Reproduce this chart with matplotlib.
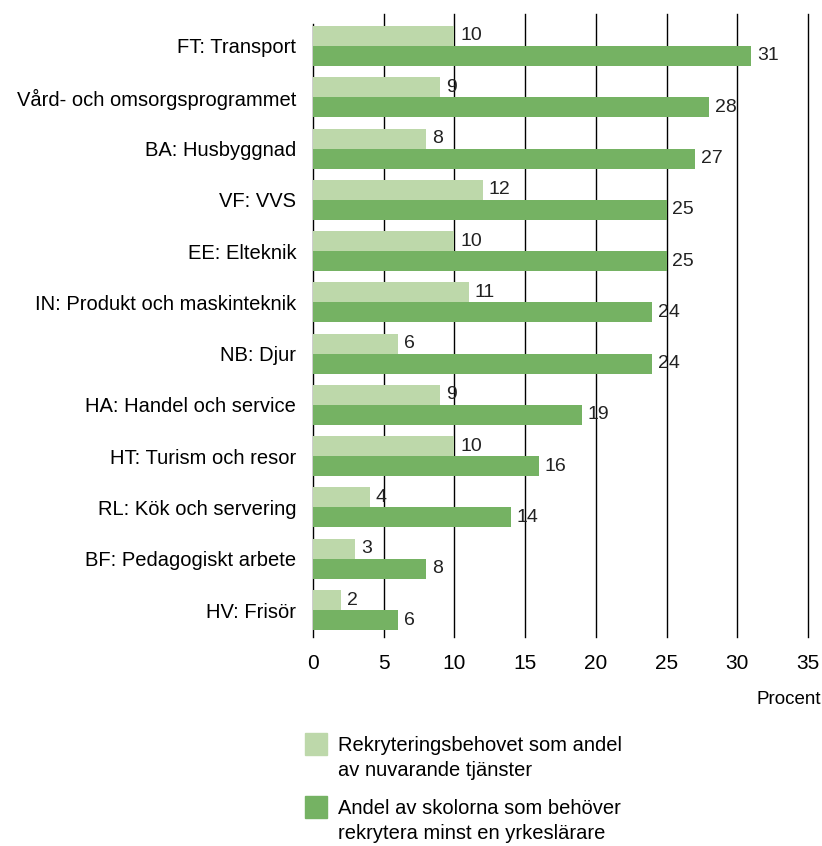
import matplotlib.pyplot as plt
import matplotlib.patches as mpatches
import numpy as np

plt.rcParams['font.family'] = ['Liberation Sans', 'DejaVu Sans']

# data
categories = ['FT: Transport', 'Vård- och omsorgsprogrammet', 'BA: Husbyggnad', 'VF: VVS',
              'EE: Elteknik', 'IN: Produkt och maskinteknik', 'NB: Djur',
              'HA: Handel och service', 'HT: Turism och resor', 'RL: Kök och servering',
              'BF: Pedagogiskt arbete', 'HV: Frisör']
rekrytering = [10, 9, 8, 12, 10, 11, 6, 9, 10, 4, 3, 2]
andel_skolor = [31, 28, 27, 25, 25, 24, 24, 19, 16, 14, 8, 6]
legend_labels = ['Rekryteringsbehovet som andel\nav nuvarande tjänster',
                 'Andel av skolorna som behöver\nrekrytera minst en yrkeslärare']

light = '#bdd8aa'
dark = '#75b263'

fig = plt.figure(figsize=(8.22, 8.46), dpi=100)
ax = fig.add_axes([0.3808, 0.247, 0.6022, 0.7365])

y = np.arange(len(categories))
h = 0.39
ax.barh(y - h / 2, rekrytering, height=h, color=light, zorder=3)
ax.barh(y + h / 2, andel_skolor, height=h, color=dark, zorder=3)

for yi, v in zip(y, rekrytering):
    ax.text(v + 0.4, yi - h / 2, str(v), va='center', ha='left', fontsize=14, color='#222222', zorder=4)
for yi, v in zip(y, andel_skolor):
    ax.text(v + 0.4, yi + h / 2, str(v), va='center', ha='left', fontsize=14, color='#222222', zorder=4)

ax.set_xlim(0, 35)
ax.set_ylim(11.526, -0.624)
ax.set_xticks(range(0, 36, 5))
for xv in range(5, 36, 5):
    ax.axvline(xv, color='black', lw=1, zorder=1, clip_on=False)

ax.set_yticks(y)
ax.set_yticklabels(categories, fontsize=14.5)
ax.tick_params(axis='y', length=0, pad=12)
ax.tick_params(axis='x', length=0, pad=12, labelsize=15)

for s in ['top', 'right', 'bottom']:
    ax.spines[s].set_visible(False)
ax.spines['left'].set_bounds(11.526, -0.43)
ax.spines['left'].set_linewidth(1)

fig.text(821 / 822, 1 - 699 / 846, 'Procent', ha='right', va='center', fontsize=13.5)

# legend
W, H = 822, 846
for i, (lab, col) in enumerate(zip(legend_labels, [light, dark])):
    top = 733 + i * 63
    fig.patches.append(mpatches.Rectangle((305 / W, 1 - (top + 22) / H), 22 / W, 22 / H,
                                          transform=fig.transFigure, color=col))
    fig.text(338 / W, 1 - (top + 3) / H, lab, ha='left', va='top', fontsize=14.5, linespacing=1.4)

fig.savefig('out.png', dpi=100)
